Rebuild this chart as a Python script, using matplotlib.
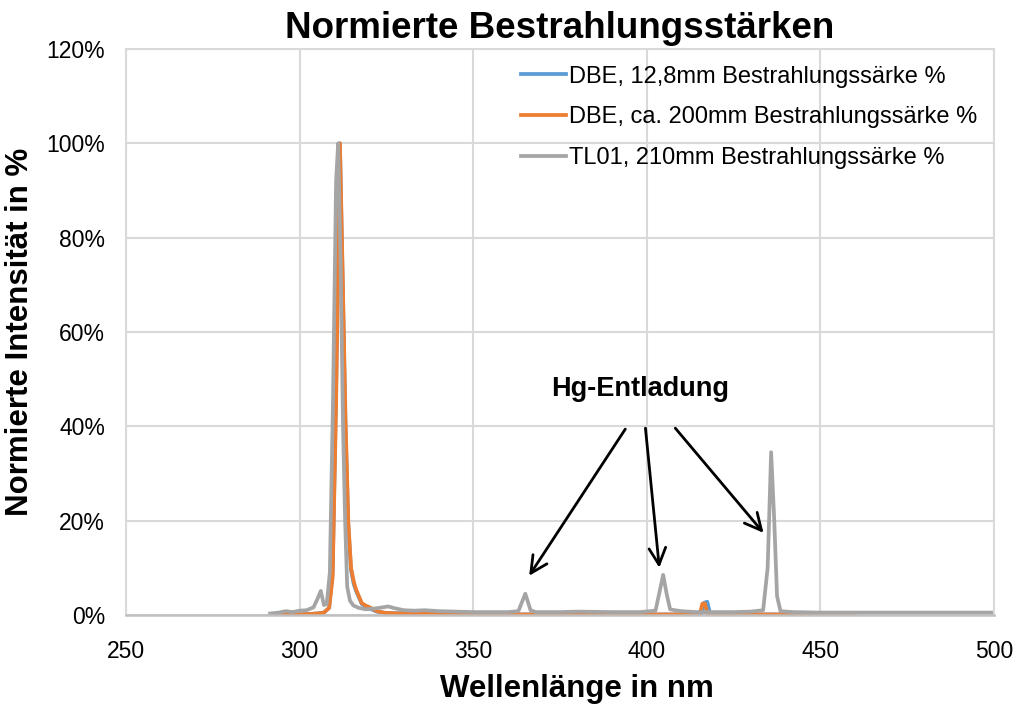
import matplotlib
matplotlib.use("Agg")
import matplotlib.pyplot as plt
from matplotlib.ticker import PercentFormatter

plt.rcParams['font.family'] = ['Liberation Sans', 'DejaVu Sans']

# TL01, 210mm (gray)
tl01_wl = [291.5, 294, 296, 298, 300, 302, 304, 305.2, 306.1, 307.0, 307.8, 308.7,
           309.6, 310.5, 311.1, 311.8, 312.5, 313.1, 313.7, 314.5, 315.5, 317, 319, 321,
           323, 325.5, 327.5, 330, 333, 336, 340, 345, 350, 355, 360, 363, 365.0, 366.5,
           368, 375, 380, 390, 398, 402.5, 403.7, 404.7, 405.7, 406.7, 408, 410, 414,
           420, 425, 430, 433.5, 434.8, 435.8, 436.7, 437.5, 438.5, 442, 450, 460, 470,
           480, 490, 500]
tl01_val = [0.3, 0.5, 0.8, 0.6, 0.9, 1.0, 1.6, 3.5, 5.1, 2.1, 2.3, 9.0,
            45, 92, 100, 75, 40, 20, 6.0, 3.0, 2.0, 1.5, 1.2, 1.3,
            1.5, 1.8, 1.4, 1.0, 0.9, 1.0, 0.8, 0.7, 0.6, 0.6, 0.6, 0.8, 4.5, 1.0,
            0.6, 0.6, 0.7, 0.6, 0.6, 0.9, 5.0, 8.5, 4.5, 1.2, 1.0, 0.8, 0.6,
            0.6, 0.6, 0.7, 1.0, 10, 34.5, 20, 4.0, 0.8, 0.6, 0.5, 0.5, 0.5,
            0.5, 0.5, 0.5]

# DBE, ca. 200mm (orange)
dbe200_wl = [292, 296, 300, 303, 305, 307, 308.5, 309.5, 310.5, 311.6, 312.4, 313.2,
             314.0, 314.8, 315.6, 316.3, 317.9, 319, 320.5, 322.2, 325, 330, 340, 360,
             380, 400, 414, 415.3, 416.0, 416.7, 417.5, 420, 440, 460]
dbe200_val = [0.0, 0.1, 0.1, 0.2, 0.3, 0.5, 1.5, 8, 45, 100, 72, 42,
              20, 10, 7, 5.3, 2.5, 2.0, 1.5, 0.8, 0.4, 0.3, 0.2, 0.1,
              0.1, 0.1, 0.1, 0.3, 2.4, 2.4, 0.3, 0.1, 0.1, 0.1]

# DBE, 12,8mm (blue)
dbe128_wl = [292, 296, 300, 305, 307, 308.5, 309.5, 310.5, 311.6, 312.4, 313.2,
             314.0, 314.8, 315.6, 316.3, 317.9, 320, 322.2, 325, 340, 360, 380, 400,
             414, 415.8, 416.6, 417.4, 418.2, 420, 440, 460]
dbe128_val = [0.0, 0.1, 0.1, 0.3, 0.5, 1.5, 9, 48, 100, 70, 40,
              19, 9.5, 6.5, 5.0, 2.3, 1.4, 0.7, 0.4, 0.2, 0.1, 0.1, 0.1,
              0.1, 0.3, 2.6, 2.8, 0.3, 0.1, 0.1, 0.1]

series_labels = ['DBE, 12,8mm Bestrahlungssärke %',
                 'DBE, ca. 200mm Bestrahlungssärke %',
                 'TL01, 210mm Bestrahlungssärke %']
series_colors = ['#5B9BD5', '#ED7D31', '#A5A5A5']

x_ticks = [250, 300, 350, 400, 450, 500]
y_ticks = [0, 20, 40, 60, 80, 100, 120]

fig = plt.figure(figsize=(10.14, 7.06), dpi=100)
ax = fig.add_axes([0.1243, 0.129, 0.856, 0.8016])

ax.plot(dbe128_wl, dbe128_val, color=series_colors[0], lw=2.7, label=series_labels[0])
ax.plot(dbe200_wl, dbe200_val, color=series_colors[1], lw=2.7, label=series_labels[1])
ax.plot(tl01_wl, tl01_val, color=series_colors[2], lw=2.7, label=series_labels[2])

ax.set_xlim(250, 500)
ax.set_ylim(0, 120)
ax.set_xticks(x_ticks)
ax.set_yticks(y_ticks)
ax.yaxis.set_major_formatter(PercentFormatter(decimals=0))
ax.grid(True, color='#D9D9D9', lw=1.5)
ax.set_axisbelow(True)
for side in ['top', 'right', 'left']:
    ax.spines[side].set_color('#D9D9D9')
    ax.spines[side].set_linewidth(1.5)
ax.spines['bottom'].set_color('#BFBFBF')
ax.spines['bottom'].set_linewidth(1.8)
ax.tick_params(length=0, labelsize=16.5, colors='black')
ax.tick_params(axis='x', pad=18)
ax.tick_params(axis='y', pad=15)

ax.set_title('Normierte Bestrahlungsstärken', fontsize=26.5, fontweight='bold', pad=8)
ax.set_xlabel('Wellenlänge in nm', fontsize=22.5, fontweight='bold', labelpad=10)
ax.xaxis.set_label_coords(0.52, -0.105)
ax.set_ylabel('Normierte Intensität in %', fontsize=22.5, fontweight='bold', labelpad=8)

leg = ax.legend(loc='upper right', bbox_to_anchor=(1.0, 1.0), frameon=False, fontsize=17,
                handlelength=1.9, handletextpad=0.15, labelspacing=0.8, borderaxespad=0.3)

ax.text(398, 48, 'Hg-Entladung', fontsize=19.5, fontweight='bold', ha='center', va='center')
arrow_style = dict(arrowstyle='->', color='black', lw=2, mutation_scale=30, shrinkA=0, shrinkB=0)
ax.annotate('', xy=(366.1, 8.3), xytext=(393.8, 39.4), arrowprops=arrow_style)
ax.annotate('', xy=(403.6, 10.0), xytext=(399.6, 39.6), arrowprops=arrow_style)
ax.annotate('', xy=(433.6, 17.4), xytext=(408.2, 39.6), arrowprops=arrow_style)

fig.savefig('out.png', dpi=100)
